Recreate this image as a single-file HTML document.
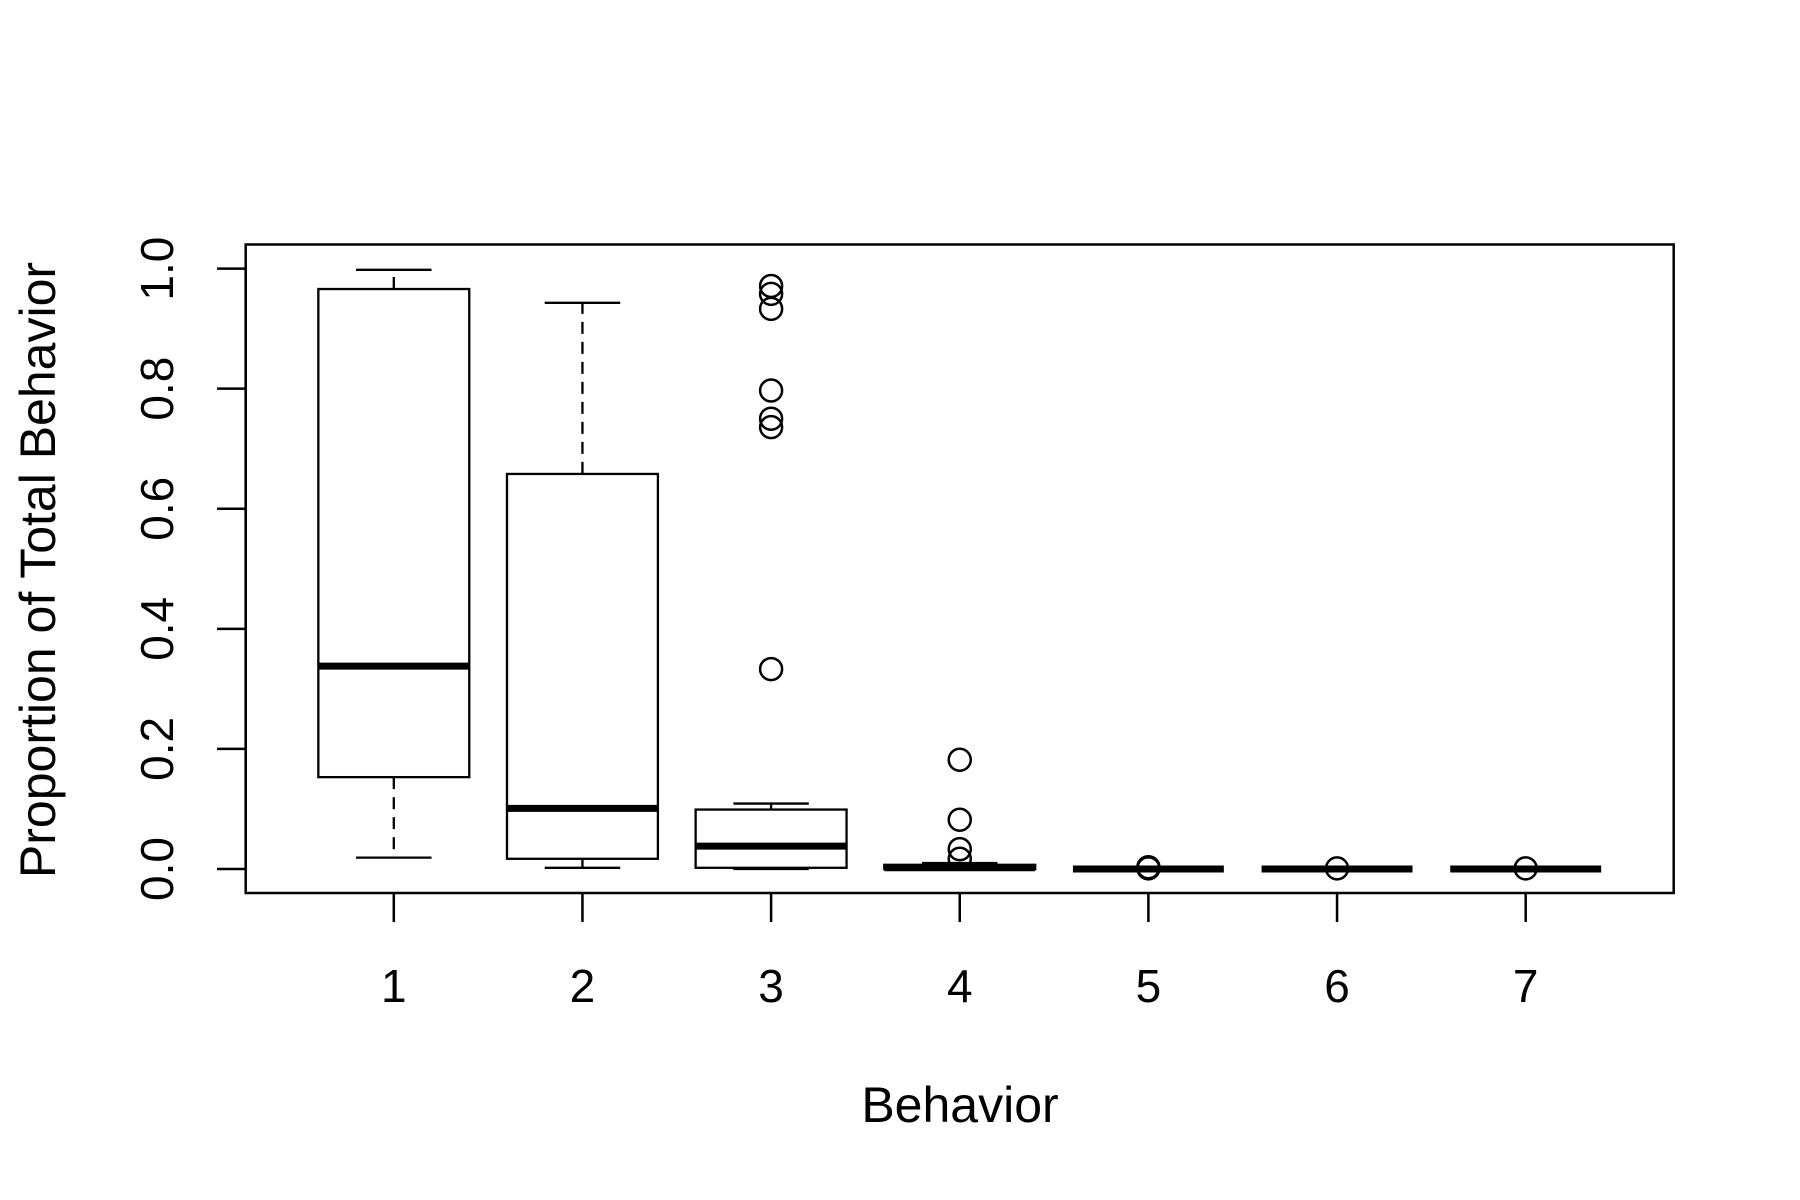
<!DOCTYPE html>
<html><head><meta charset="utf-8"><style>
html,body{margin:0;padding:0;background:#fff;}
svg{display:block;font-family:"Liberation Sans",Arial,sans-serif;}
</style></head><body>
<svg id="chart" width="1800" height="1200" viewBox="0 0 1800 1200" xmlns="http://www.w3.org/2000/svg">
<rect x="0" y="0" width="1800" height="1200" fill="#fff"/>
<g id="marks"></g>
<rect x="245.7" y="244.5" width="1428" height="648.5" fill="none" stroke="#000" stroke-width="2.5"/>
<text x="960" y="1122" font-size="50" text-anchor="middle">Behavior</text>
<text transform="translate(55,570) rotate(-90)" font-size="50" text-anchor="middle">Proportion of Total Behavior</text>
</svg>
<script>
const categories = ["1","2","3","4","5","6","7"];
const mins    = [0.019, 0.002, 0.000, 0.000, 0.000, 0.000, 0.000];
const q1s     = [0.153, 0.017, 0.002, 0.000, 0.000, 0.000, 0.000];
const medians = [0.338, 0.101, 0.038, 0.002, 0.000, 0.000, 0.000];
const q3s     = [0.966, 0.658, 0.099, 0.007, 0.000, 0.000, 0.000];
const maxs    = [0.998, 0.943, 0.109, 0.010, 0.000, 0.000, 0.000];
const outliers = [[], [], [0.971,0.958,0.933,0.797,0.750,0.736,0.333], [0.182,0.082,0.033,0.017], [0.003,0.001], [0.001], [0.001]];
const yTicks = [0.0, 0.2, 0.4, 0.6, 0.8, 1.0];
const yTickLabels = ["0.0","0.2","0.4","0.6","0.8","1.0"];

const NS="http://www.w3.org/2000/svg";
const g=document.getElementById('marks');
const X0=393.8, DX=188.65, Y0=869, Y1=268.6;
const xs=i=>X0+i*DX;
const ys=v=>Y0+(Y1-Y0)*v;
const HW=DX*0.4;
function mk(tag,attrs,parent){const e=document.createElementNS(NS,tag);for(const k in attrs)e.setAttribute(k,attrs[k]);(parent||g).appendChild(e);return e;}

categories.forEach((c,i)=>{
  const x=xs(i);
  const grp=mk('g',{});
  
  
  mk('line',{x1:x,x2:x,y1:ys(q3s[i]),y2:ys(maxs[i]),stroke:'#000','stroke-width':2.3,'stroke-dasharray':'12,8'},grp);
  mk('line',{x1:x,x2:x,y1:ys(q1s[i]),y2:ys(mins[i]),stroke:'#000','stroke-width':2.3,'stroke-dasharray':'12,8'},grp);
  mk('line',{x1:x-HW/2,x2:x+HW/2,y1:ys(maxs[i]),y2:ys(maxs[i]),stroke:'#000','stroke-width':2.3},grp);
  mk('line',{x1:x-HW/2,x2:x+HW/2,y1:ys(mins[i]),y2:ys(mins[i]),stroke:'#000','stroke-width':2.3},grp);
  mk('rect',{x:x-HW,y:ys(q3s[i]),width:2*HW,height:Math.max(0,ys(q1s[i])-ys(q3s[i])),fill:'#fff',stroke:'#000','stroke-width':2.3},grp);
  mk('line',{x1:x-HW,x2:x+HW,y1:ys(medians[i]),y2:ys(medians[i]),stroke:'#000','stroke-width':7},grp);
  outliers[i].forEach(v=>{
    const o=mk('circle',{cx:x,cy:ys(v),r:11,fill:'none',stroke:'#000','stroke-width':2.5},grp);
    
    
  });
  const t=mk('line',{x1:x,x2:x,y1:893,y2:922,stroke:'#000','stroke-width':2.5});
  
  
  const l=mk('text',{x:x,y:1002,'font-size':46,'text-anchor':'middle'});
  l.textContent=c;
  
  
});
mk('line',{x1:245.7,x2:245.7,y1:ys(0),y2:ys(1),stroke:'#000','stroke-width':2.5});
yTicks.forEach((v,i)=>{
  const y=ys(v);
  const t=mk('line',{x1:217,x2:245.7,y1:y,y2:y,stroke:'#000','stroke-width':2.5});
  
  
  const l=mk('text',{transform:`translate(173,${y}) rotate(-90)`,'font-size':46,'text-anchor':'middle'});
  l.textContent=yTickLabels[i];
  
  
});
</script>
</body></html>
